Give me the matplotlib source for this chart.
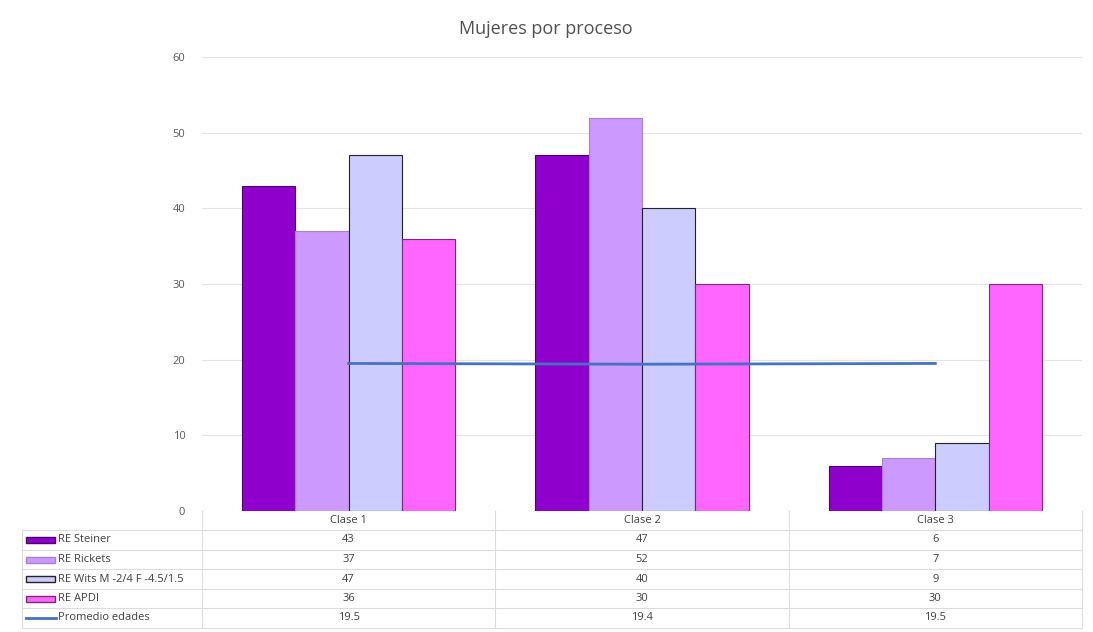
import numpy as np
import matplotlib.pyplot as plt
from matplotlib.patches import Rectangle

plt.rcParams['font.family'] = ['Open Sans', 'DejaVu Sans']

categorias = ["Clase 1", "Clase 2", "Clase 3"]
series = ["RE Steiner", "RE Rickets", "RE Wits M -2/4 F -4.5/1.5", "RE APDI"]
steiner = [43, 47, 6]
rickets = [37, 52, 7]
wits = [47, 40, 9]
apdi = [36, 30, 30]
promedio = [19.5, 19.4, 19.5]
promedio_txt = ["19.5", "19.4", "19.5"]

colores = ["#8f00cc", "#cc99ff", "#ccccff", "#ff66ff"]
bordes = ["#4a0070", "#a77fd6", "#222222", "#7a2a7a"]
color_linea = "#4472c4"

W_PX, H_PX = 1093, 632
L, R = 202, 1082          # plot area in pixels
TOP, BOT = 57, 511
TL = 22                   # table left edge
row_y = [511, 530, 550, 569, 589, 608, 628]

fig = plt.figure(figsize=(W_PX / 100, H_PX / 100), dpi=100)
ax = fig.add_axes([L / W_PX, 1 - BOT / H_PX, (R - L) / W_PX, (BOT - TOP) / H_PX])

x = np.arange(len(categorias))
w = 1 / 5.5
valores = [steiner, rickets, wits, apdi]
for i, vals in enumerate(valores):
    ax.bar(x + (i - 1.5) * w, vals, w, color=colores[i], edgecolor=bordes[i],
           linewidth=0.8, zorder=2)
ax.plot(x, promedio, color=color_linea, linewidth=2, zorder=3)

ax.set_xlim(-0.5, 2.5)
ax.set_ylim(0, 60)
ax.set_yticks(range(0, 61, 10))
ax.set_xticks([])
ax.tick_params(axis='y', length=0, labelsize=8, labelcolor="#595959", pad=12)
ax.grid(axis='y', color="#e3e3e3", linewidth=0.8, zorder=0)
for s in ax.spines.values():
    s.set_visible(False)

fig.text(546 / W_PX, 1 - 29 / H_PX, "Mujeres por proceso", ha='center', va='center',
         fontsize=13, color="#505050")

# data table under the plot
tab = fig.add_axes([0, 0, 1, 1], facecolor='none')
tab.set_xlim(0, W_PX)
tab.set_ylim(H_PX, 0)
tab.axis('off')
gc = "#dcdcdc"
col_w = (R - L) / len(categorias)
for k in range(len(categorias) + 1):
    xv = L + k * col_w
    tab.plot([xv, xv], [row_y[0], row_y[-1]], color=gc, lw=0.8)
tab.plot([TL, TL], [row_y[1], row_y[-1]], color=gc, lw=0.8)
for yy in row_y[1:]:
    tab.plot([TL, R], [yy, yy], color=gc, lw=0.8)

tc = "#404040"
fs = 8
for j, c in enumerate(categorias):
    tab.text(L + (j + 0.5) * col_w, (row_y[0] + row_y[1]) / 2, c, ha='center',
             va='center', fontsize=fs, color=tc)

filas = [[str(v) for v in s] for s in valores] + [promedio_txt]
etiquetas = series + ["Promedio edades"]
for r, (lab, vals) in enumerate(zip(etiquetas, filas)):
    yc = (row_y[r + 1] + row_y[r + 2]) / 2
    if r < len(series):
        tab.add_patch(Rectangle((26, yc - 3), 29, 6, facecolor=colores[r],
                                edgecolor=bordes[r], lw=1))
    else:
        tab.plot([26, 56], [yc, yc], color=color_linea, lw=2)
    tab.text(58, yc, lab, ha='left', va='center', fontsize=fs, color=tc)
    for j, v in enumerate(vals):
        tab.text(L + (j + 0.5) * col_w, yc, v, ha='center', va='center',
                 fontsize=fs, color=tc)

fig.savefig("out.png", dpi=100)
